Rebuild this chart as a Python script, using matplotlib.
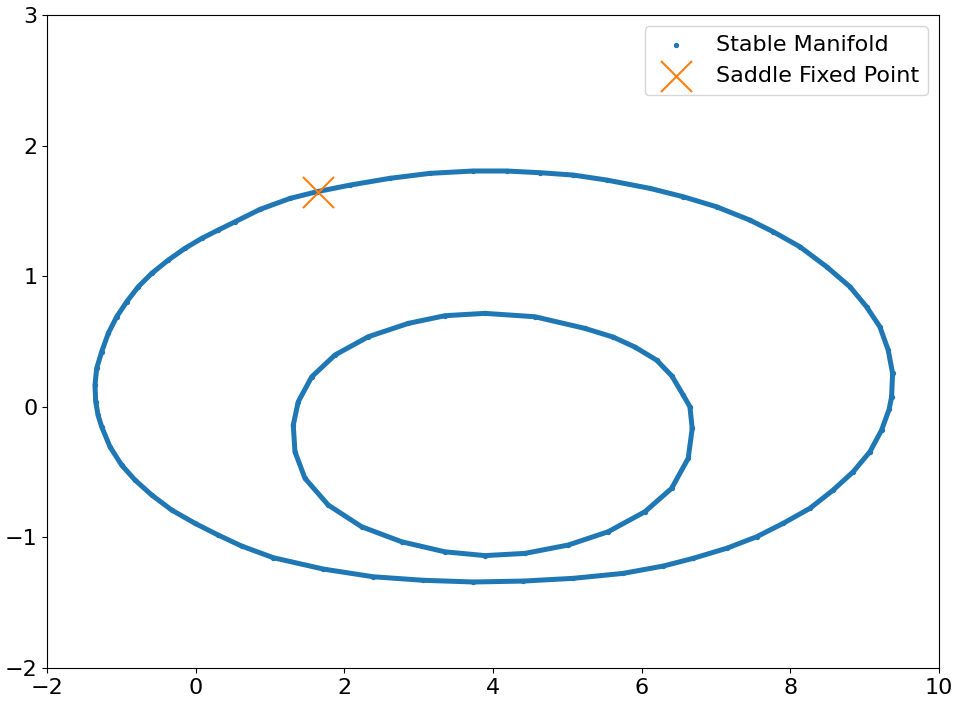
import matplotlib
matplotlib.use("Agg")
import matplotlib.pyplot as plt

# Outer manifold branch
outer_x = [9.364, 9.377, 9.318, 9.206, 9.027, 8.803, 8.489, 8.130, 7.771, 7.457, 7.009, 6.560,
           6.112, 5.529, 5.080, 4.632, 4.184, 3.735, 3.152, 2.614, 2.076, 1.628, 1.269, 0.865,
           0.529, 0.304, 0.081, -0.144, -0.369, -0.592, -0.772, -0.928, -1.063, -1.176, -1.265,
           -1.332, -1.355, -1.345, -1.314, -1.265, -1.153, -0.996, -0.817, -0.592, -0.323, -0.009,
           0.304, 0.619, 1.044, 1.717, 2.389, 3.062, 3.735, 4.407, 5.080, 5.753, 6.291, 6.694,
           7.144, 7.547, 7.905, 8.265, 8.578, 8.847, 9.072, 9.229, 9.330]
outer_y = [0.077, 0.257, 0.435, 0.613, 0.766, 0.920, 1.073, 1.226, 1.341, 1.430, 1.532, 1.609,
           1.673, 1.737, 1.775, 1.793, 1.806, 1.806, 1.788, 1.750, 1.698, 1.647, 1.596, 1.512,
           1.417, 1.354, 1.290, 1.214, 1.124, 1.022, 0.920, 0.805, 0.690, 0.563, 0.422,
           0.295, 0.167, 0.039, -0.063, -0.152, -0.306, -0.446, -0.560, -0.675, -0.790, -0.892,
           -0.982, -1.066, -1.155, -1.242, -1.301, -1.328, -1.341, -1.334, -1.313, -1.275, -1.219, -1.160,
           -1.083, -0.995, -0.892, -0.777, -0.637, -0.497, -0.344, -0.178, -0.020]

# Inner manifold branch
inner_x = [6.681, 6.650, 6.560, 6.408, 6.202, 5.910, 5.618, 5.237, 4.565, 3.892, 3.354, 2.860,
           2.322, 1.874, 1.561, 1.380, 1.313, 1.336, 1.470, 1.784, 2.233, 2.771, 3.354, 3.892,
           4.430, 5.013, 5.551, 6.045, 6.404, 6.627]
inner_y = [-0.165, 0.001, 0.090, 0.236, 0.358, 0.458, 0.534, 0.601, 0.690, 0.716, 0.698, 0.639,
           0.537, 0.397, 0.230, 0.039, -0.139, -0.344, -0.547, -0.752, -0.918, -1.033, -1.110, -1.139,
           -1.122, -1.058, -0.956, -0.803, -0.624, -0.394]

saddle_x = [1.646]
saddle_y = [1.643]

blue = "#1f77b4"
orange = "#ff7f0e"

fig = plt.figure(figsize=(9.6, 7.01), dpi=100)
ax = fig.add_axes([0.049, 0.047, 0.929, 0.9315])

for xs, ys in [(outer_x, outer_y), (inner_x, inner_y)]:
    ax.plot(xs + xs[:1], ys + ys[:1], color=blue, lw=3.6,
            solid_joinstyle="round", solid_capstyle="round", zorder=1)

all_x = outer_x + inner_x
all_y = outer_y + inner_y
ax.scatter(all_x, all_y, s=8, color=blue, label="Stable Manifold", zorder=2)
ax.scatter(saddle_x, saddle_y, marker="x", s=500, color=orange, linewidths=1.5,
           label="Saddle Fixed Point", zorder=3)

ax.set_xlim(-2, 10)
ax.set_ylim(-2, 3)
ax.set_xticks([-2, 0, 2, 4, 6, 8, 10])
ax.set_yticks([-2, -1, 0, 1, 2, 3])
ax.tick_params(labelsize=16)
ax.legend(loc="upper right", fontsize=16, markerscale=1.0)

fig.savefig("out.png", dpi=100)
